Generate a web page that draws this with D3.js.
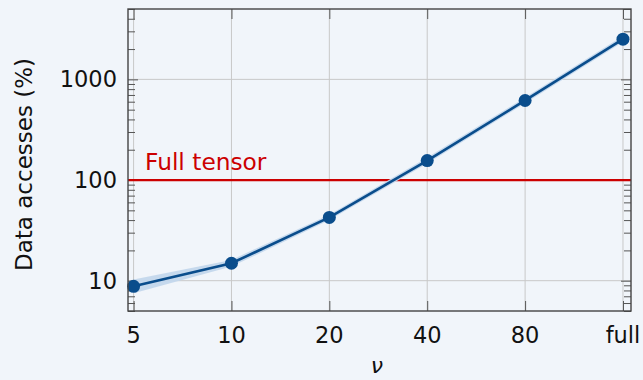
<!DOCTYPE html>
<html>
<head>
<meta charset="utf-8">
<script src="https://cdn.jsdelivr.net/npm/d3@7"></script>
<style>
  html, body { margin: 0; padding: 0; background: #f1f5fa; }
  svg { display: block; }
  text { font-family: "DejaVu Sans", sans-serif; }
</style>
</head>
<body>
<svg id="chart" width="643" height="380"></svg>
<script>
// ---- data ----
const categories = ["5", "10", "20", "40", "80", "full"];
const accesses   = [8.8, 14.9, 42.5, 156, 617, 2510];
const bandLower  = [7.5, 13.8, 40.0, 146, 578, 2350];
const bandUpper  = [10.3, 16.1, 45.2, 167, 660, 2690];
const refValue   = 100;
const refLabel   = "Full tensor";
const yTickValues = [10, 100, 1000];
const yLabel = "Data accesses (%)";
const xLabel = "ν";

// ---- layout ----
const W = 643, H = 380;
const pLeft = 128, pRight = 631, pTop = 9, pBottom = 311;

const svg = d3.select("#chart");
svg.append("rect").attr("width", W).attr("height", H).attr("fill", "#f1f5fa");

const x = d3.scaleLinear().domain([-0.057, 5.082]).range([pLeft, pRight]);
const y = d3.scaleLog().domain([5, 5000]).range([pBottom, pTop]);

const idx = categories.map((_, i) => i);

// grid
const grid = svg.append("g").attr("stroke", "#c8c8c8").attr("stroke-width", 1);
grid.selectAll("line.v").data(idx).join("line").attr("class", "v")
  .attr("x1", d => x(d)).attr("x2", d => x(d))
  .attr("y1", pTop).attr("y2", pBottom);
grid.selectAll("line.h").data(yTickValues).join("line").attr("class", "h")
  .attr("x1", pLeft).attr("x2", pRight)
  .attr("y1", d => y(d)).attr("y2", d => y(d));

// ticks
const minor = [];
[1, 10, 100, 1000].forEach(dec => {
  for (let k = 2; k <= 9; k++) {
    const v = dec * k;
    if (v >= 5 && v <= 5000) minor.push(v);
  }
});
const yAxisL = d3.axisRight(y).tickValues(yTickValues).tickSize(10).tickFormat("");
const yAxisLm = d3.axisRight(y).tickValues(minor).tickSize(7).tickFormat("");
const yAxisR = d3.axisLeft(y).tickValues(yTickValues).tickSize(10).tickFormat("");
const yAxisRm = d3.axisLeft(y).tickValues(minor).tickSize(7).tickFormat("");
[[yAxisL, pLeft], [yAxisLm, pLeft], [yAxisR, pRight], [yAxisRm, pRight]].forEach(([ax, px]) => {
  const g = svg.append("g").attr("transform", `translate(${px},0)`).call(ax);
  g.select(".domain").remove();
  g.selectAll(".tick line").attr("stroke", "#555");
});
const xAxisB = d3.axisTop(x).tickValues(idx).tickSize(10).tickFormat("");
const xAxisT = d3.axisBottom(x).tickValues(idx).tickSize(10).tickFormat("");
[[xAxisB, pBottom], [xAxisT, pTop]].forEach(([ax, py]) => {
  const g = svg.append("g").attr("transform", `translate(0,${py})`).call(ax);
  g.select(".domain").remove();
  g.selectAll(".tick line").attr("stroke", "#555");
});

// reference line
svg.append("line")
  .attr("x1", pLeft).attr("x2", pRight)
  .attr("y1", y(refValue)).attr("y2", y(refValue))
  .attr("stroke", "#cc0000").attr("stroke-width", 2.3);
svg.append("text")
  .attr("x", 145).attr("y", 170)
  .attr("fill", "#cc0000").attr("font-size", 23.3)
  .text(refLabel);

// band
const area = d3.area()
  .x((d, i) => x(i))
  .y0((d, i) => y(bandLower[i]))
  .y1((d, i) => y(bandUpper[i]));
svg.append("path").datum(accesses)
  .attr("d", area).attr("fill", "#c3d7ec").attr("opacity", 0.95);

// line
const line = d3.line().x((d, i) => x(i)).y(d => y(d));
svg.append("path").datum(accesses)
  .attr("d", line).attr("fill", "none")
  .attr("stroke", "#0a4d8c").attr("stroke-width", 2.6);

// markers
svg.selectAll("circle.pt").data(accesses).join("circle").attr("class", "pt")
  .attr("cx", (d, i) => x(i)).attr("cy", d => y(d))
  .attr("r", 6.5).attr("fill", "#0a4d8c");

// frame
svg.append("rect")
  .attr("x", pLeft).attr("y", pTop)
  .attr("width", pRight - pLeft).attr("height", pBottom - pTop)
  .attr("fill", "none").attr("stroke", "#444").attr("stroke-width", 1.4);

// tick labels
svg.selectAll("text.xt").data(categories).join("text").attr("class", "xt")
  .attr("x", (d, i) => x(i)).attr("y", 343)
  .attr("text-anchor", "middle").attr("font-size", 22.5).attr("fill", "#111")
  .text(d => d);
svg.selectAll("text.yt").data(yTickValues).join("text").attr("class", "yt")
  .attr("x", 117).attr("y", d => y(d))
  .attr("dy", "0.36em")
  .attr("text-anchor", "end").attr("font-size", 22.5).attr("fill", "#111")
  .text(d => d3.format("d")(d));

// axis labels
svg.append("text")
  .attr("transform", `translate(32,164.5) rotate(-90)`)
  .attr("text-anchor", "middle").attr("font-size", 23).attr("fill", "#111")
  .text(yLabel);
svg.append("text")
  .attr("x", 377).attr("y", 373)
  .attr("text-anchor", "middle")
  .attr("font-family", "'DejaVu Serif', serif").attr("font-style", "italic")
  .attr("font-size", 22).attr("fill", "#111")
  .text(xLabel);
</script>
</body>
</html>
